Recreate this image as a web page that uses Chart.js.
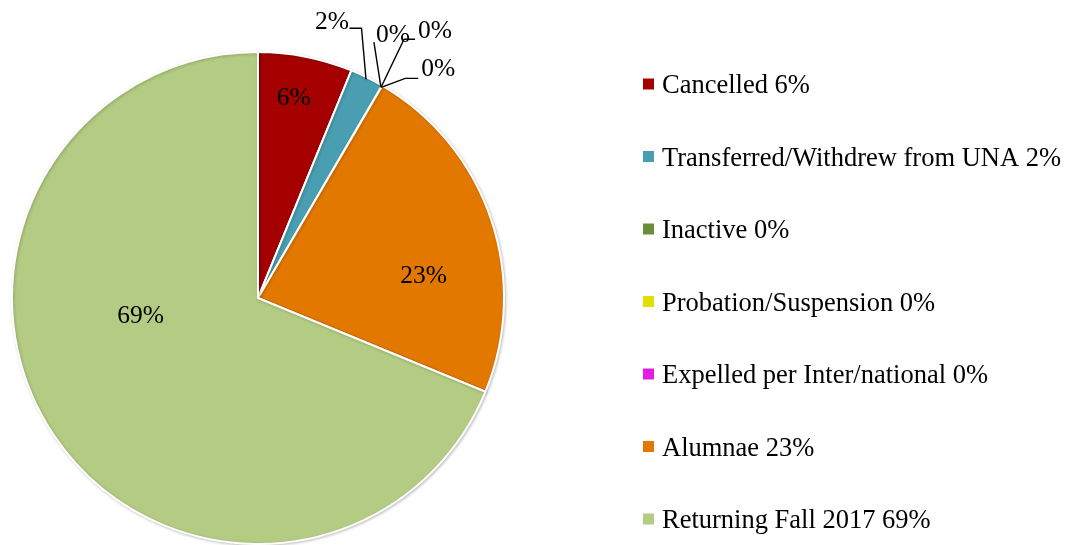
<!DOCTYPE html>
<html>
<head>
<meta charset="utf-8">
<script src="https://cdn.jsdelivr.net/npm/chart.js@4.4.0/dist/chart.umd.min.js"></script>
<style>
  html, body { margin: 0; padding: 0; background: #fff; }
  #wrap { width: 1073px; height: 545px; position: relative; }
</style>
</head>
<body>
<div id="wrap"><canvas id="pie" width="1073" height="545"></canvas></div>
<script>
const categories = ['Cancelled', 'Transferred/Withdrew from UNA', 'Inactive', 'Probation/Suspension', 'Expelled per Inter/national', 'Alumnae', 'Returning Fall 2017'];
const shares = [6.2, 2.2, 0.01, 0.01, 0.01, 22.8, 68.8];
const percentLabels = ['6%', '2%', '0%', '0%', '0%', '23%', '69%'];
const colors = ['#a50000', '#4a9eb1', '#6b8e3a', '#e2e000', '#e21ce2', '#e27800', '#b3cb82'];

const serif = '"Liberation Serif", "Times New Roman", serif';

// where each label goes: inside ones by fraction of the arc / radius,
// outside ones by offsets from the arc's outer middle point
const labelPlace = {
  0: { inside: true, along: 0.456, radial: 0.825 },
  5: { inside: true, along: 0.635, radial: 0.679 },
  6: { inside: true, along: 0.601, radial: 0.483 },
  1: { line: [[-4.5, -51], [-16.5, -51]], text: [-17, -57], align: 'right' },
  2: { line: [[-7, -45]], text: [12, -52], align: 'center' },
  3: { line: [[23, -48], [34, -48]], text: [54, -56], align: 'center' },
  4: { line: [[24, -9], [37, -9]], text: [57, -18], align: 'center' }
};

const pieLabels = {
  id: 'pieLabels',
  afterDatasetsDraw(chart) {
    const ctx = chart.ctx;
    const arcs = chart.getDatasetMeta(0).data;
    ctx.save();
    ctx.font = '25.5px ' + serif;
    ctx.fillStyle = '#000';
    ctx.strokeStyle = '#000';
    ctx.lineWidth = 1.4;
    ctx.textBaseline = 'middle';
    arcs.forEach((arc, i) => {
      const p = labelPlace[i];
      if (!p) return;
      const { x, y, startAngle, endAngle, outerRadius } = arc.getProps(['x', 'y', 'startAngle', 'endAngle', 'outerRadius'], true);
      if (p.inside) {
        const a = startAngle + (endAngle - startAngle) * p.along;
        const r = outerRadius * p.radial;
        ctx.textAlign = 'center';
        ctx.fillText(percentLabels[i], x + Math.cos(a) * r, y + Math.sin(a) * r);
      } else {
        const a = (startAngle + endAngle) / 2;
        const ex = x + Math.cos(a) * (outerRadius - 2);
        const ey = y + Math.sin(a) * (outerRadius - 2);
        ctx.beginPath();
        ctx.moveTo(ex, ey);
        p.line.forEach(pt => ctx.lineTo(ex + pt[0], ey + pt[1]));
        ctx.stroke();
        ctx.textAlign = p.align;
        ctx.fillText(percentLabels[i], ex + p.text[0], ey + p.text[1]);
      }
    });
    ctx.restore();
  }
};

const sideLegend = {
  id: 'sideLegend',
  afterDraw(chart) {
    const ctx = chart.ctx;
    ctx.save();
    ctx.font = '26.5px ' + serif;
    ctx.textBaseline = 'alphabetic';
    ctx.textAlign = 'left';
    categories.forEach((name, i) => {
      const cy = 84 + i * 72.5;
      ctx.fillStyle = colors[i];
      ctx.fillRect(643, cy - 5.5, 11, 11);
      ctx.fillStyle = '#000';
      ctx.fillText(name + ' ' + percentLabels[i], 662, cy + 9);
    });
    ctx.restore();
  }
};

const pieShadow = {
  id: 'pieShadow',
  beforeDatasetsDraw(chart) {
    const ctx = chart.ctx;
    ctx.save();
    ctx.shadowColor = 'rgba(0,0,0,0.22)';
    ctx.shadowBlur = 3;
    ctx.shadowOffsetX = 1;
    ctx.shadowOffsetY = 1;
  },
  afterDatasetsDraw(chart) {
    chart.ctx.restore();
  }
};

new Chart(document.getElementById('pie'), {
  type: 'pie',
  data: {
    labels: categories,
    datasets: [{
      data: shares,
      backgroundColor: colors,
      borderColor: '#ffffff',
      borderWidth: [2, 2, 0, 0, 0, 2, 2]
    }]
  },
  options: {
    responsive: false,
    animation: false,
    layout: { padding: { left: 11, top: 51, right: 568, bottom: 0 } },
    plugins: {
      legend: { display: false },
      tooltip: { enabled: false }
    }
  },
  plugins: [pieShadow, pieLabels, sideLegend]
});
</script>
</body>
</html>
